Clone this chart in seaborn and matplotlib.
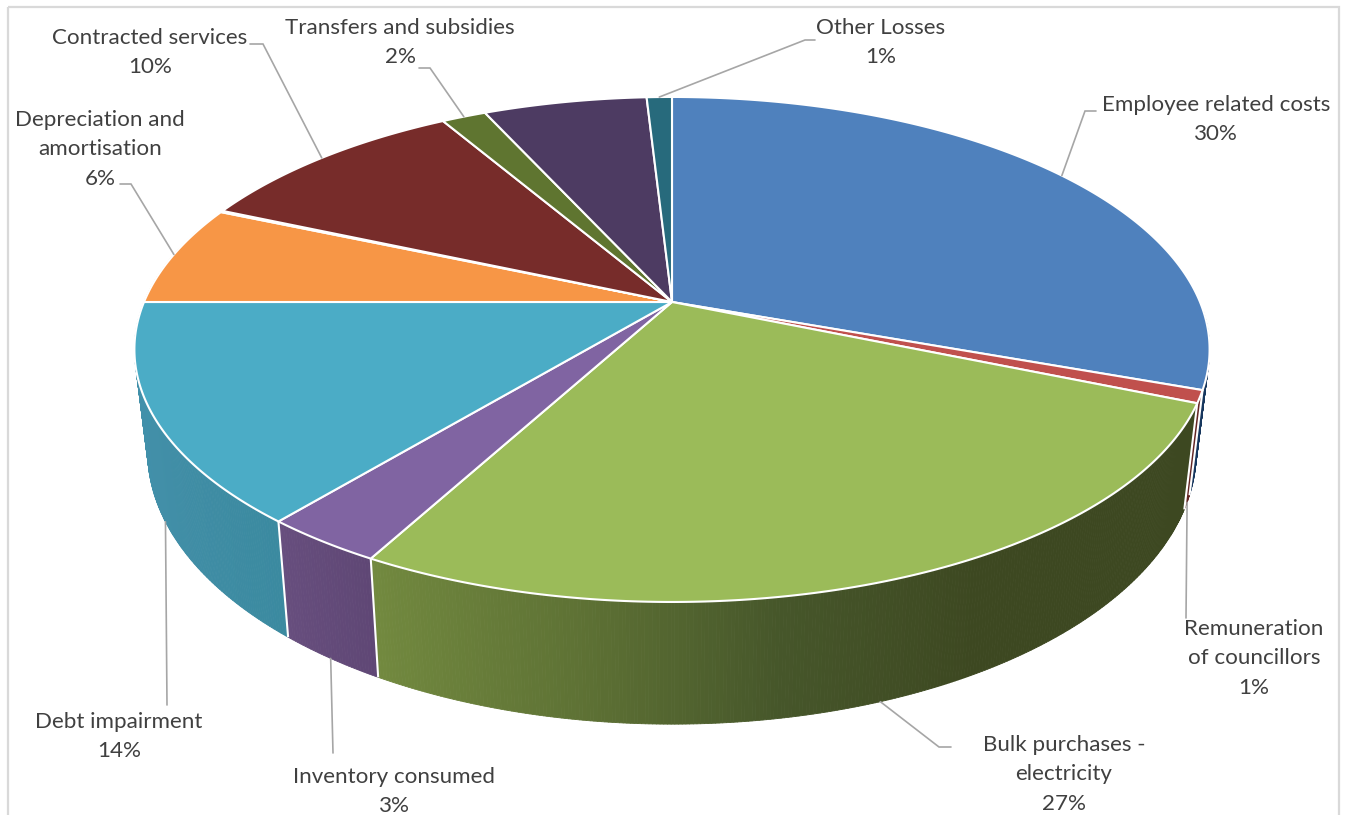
import numpy as np
import matplotlib
matplotlib.use("Agg")
import matplotlib.pyplot as plt
from matplotlib.collections import PolyCollection
from matplotlib.patches import Polygon, Rectangle
import seaborn as sns

# Expenditure breakdown, in percent of the total, clockwise from twelve o'clock
categories = ["Employee related costs", "Remuneration of councillors",
              "Bulk purchases - electricity", "Inventory consumed", "Debt impairment",
              "Depreciation and amortisation", "Finance charges", "Contracted services",
              "Transfers and subsidies", "Other expenditure", "Other Losses"]
shares = [30.5, 0.8, 26.6, 3.1, 14.0, 6.49, 0.1, 10.0, 1.6, 5.9, 0.91]

top_colors = ["#4F81BD", "#C0504D", "#9BBB59", "#8064A2", "#4BACC6", "#F79646",
              "#2C4D75", "#772C2A", "#5F7530", "#4D3B62", "#276A7C"]
# Shading of the outer wall, first to last along each slice
wall_stops = [["#17375E", "#17375E"], ["#632523", "#632523"],
              ["#3D4821", "#3D4821", "#3D4821", "#46562A", "#5F7335", "#72893F"],
              ["#5F4775", "#674E7E"], ["#3B8AA0", "#428FA8", "#4091AB"],
              ["#B8702F", "#B8702F"], ["#2C4D75", "#2C4D75"], ["#772C2A", "#772C2A"],
              ["#5F7530", "#5F7530"], ["#4D3B62", "#4D3B62"], ["#276A7C", "#276A7C"]]

# Text lines of each label (None: slice carries no label)
label_lines = {0: ["Employee related costs"], 1: ["Remuneration", "of councillors"],
               2: ["Bulk purchases -", "electricity"], 3: ["Inventory consumed"],
               4: ["Debt impairment"], 5: ["Depreciation and", "amortisation"],
               7: ["Contracted services"], 8: ["Transfers and subsidies"], 10: ["Other Losses"]}

# Label placement in pixels: centre x, first line y
label_xy = {0: (1216, 105), 1: (1254, 629), 2: (1064, 745), 3: (394, 777), 4: (119, 722),
            5: (100, 120), 7: (150, 38), 8: (400, 28), 10: (881, 28)}
LINE_STEP = 29.4
# Leader lines: free end points from the label towards the pie
leader_path = {0: [(1096, 111), (1085, 111)], 1: [(1186, 618)],
               2: [(951, 747), (939, 747)], 3: [(333, 753)], 4: [(167, 705)],
               5: [(120, 184), (131, 184)], 7: [(250, 44), (263, 44)],
               8: [(419, 68), (430, 68)], 10: [(815, 40), (805, 40)]}
# Leaders that land on the lower rim rather than the top rim
lower_anchor = {1, 2, 3, 4}

# Perspective of the disc: pixel centre, half width, vertical terms
CX, TILT = 672.0, -0.188
TOP = dict(e=528.0, b=302.0, a=186.8)
LOW = dict(e=515.0, b=400.0, a=188.0)

sns.set_theme(style="white")
plt.rcParams["font.family"] = ["Lato", "DejaVu Sans"]


def rim(theta, disc):
    """Project a clockwise angle (radians from twelve o'clock) on to a disc."""
    u, v = np.sin(theta), -np.cos(theta)
    den = 1 + TILT * v
    return CX + disc["e"] * u / den, (disc["b"] + disc["a"] * v) / den


fig = plt.figure(figsize=(13.47, 8.15), dpi=100, facecolor="white")
ax = fig.add_axes([0, 0, 1, 1])
ax.set_xlim(0, 1347)
ax.set_ylim(815, 0)
ax.axis("off")

ax.add_patch(Rectangle((7.5, 7), 1331, 830, fill=False, ec="#D9D9D9", lw=1.6, zorder=0))

edges = np.radians(np.concatenate([[0], np.cumsum(shares)]) * 3.6)
faces = sns.color_palette(top_colors)

# Outer wall: thin shaded strips, only on the side facing the viewer
for i in range(len(shares)):
    start, stop = edges[i], edges[i + 1]
    lo, hi = max(start, np.radians(92)), min(stop, np.radians(288))
    if hi <= lo:
        continue
    n = max(2, int(np.degrees(hi - lo) * 3))
    th = np.linspace(lo, hi, n + 1)
    tx, ty = rim(th, TOP)
    bx, by = rim(th, LOW)
    quads = [[(tx[k], ty[k]), (tx[k + 1], ty[k + 1]), (bx[k + 1], by[k + 1]), (bx[k], by[k])]
             for k in range(n)]
    shade = sns.blend_palette(wall_stops[i], n)
    ax.add_collection(PolyCollection(quads, facecolors=shade, edgecolors=shade, lw=0.6, zorder=2))

# White seams where two slices meet on the wall
for e in edges[1:6]:
    tx, ty = rim(e, TOP)
    bx, by = rim(e, LOW)
    ax.plot([tx, bx], [ty, by], color="white", lw=1.5, zorder=3, solid_capstyle="butt")

# Top face
for i in range(len(shares)):
    n = max(2, int(shares[i] * 8))
    th = np.linspace(edges[i], edges[i + 1], n)
    x, y = rim(th, TOP)
    pts = [(CX, TOP["b"])] + list(zip(x, y))
    ax.add_patch(Polygon(pts, closed=True, fc=faces[i], ec="white", lw=1.5,
                         joinstyle="round", zorder=4))

# Labels and leaders
for i, lines in label_lines.items():
    x0, y0 = label_xy[i]
    text = lines + [f"{round(shares[i])}%"]
    for k, line in enumerate(text):
        ax.text(x0, y0 + k * LINE_STEP, line, ha="center", va="center",
                fontsize=16.1, color="#404040", zorder=6)
    mid = (edges[i] + edges[i + 1]) / 2
    ax_, ay_ = rim(mid, LOW if i in lower_anchor else TOP)
    path = leader_path[i] + [(ax_, ay_)]
    ax.plot(*zip(*path), color="#A6A6A6", lw=1.2, zorder=5, solid_joinstyle="miter")

fig.savefig("out.png", dpi=100, facecolor="white")
